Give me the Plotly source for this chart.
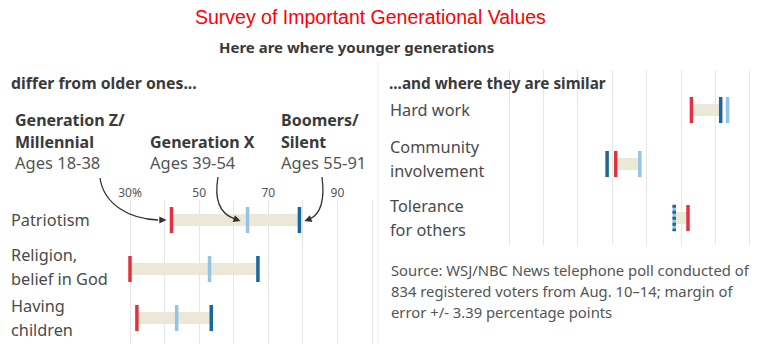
import plotly.graph_objects as go

# ---- data (percent saying each value is very important) ----
left_rows = ["Patriotism", "Religion,<br>belief in God", "Having<br>children"]
left_genz = [42, 30, 32]
left_genx = [64, 53, 43.5]
left_boom = [79, 67, 53.5]
left_bar_end = ["boom", "boom", "boom"]

right_rows = ["Hard work", "Community<br>involvement", "Tolerance<br>for others"]
right_genz = [83, 61, 82]
right_genx = [93.5, 68, 78]
right_boom = [91.5, 58.5, 78]
right_bar_end = ["boom", "genx", "boom"]

tick_vals = [30, 40, 50, 60, 70, 80, 90, 100]
tick_text = ["30%", "", "50", "", "70", "", "90", ""]

source_lines = [
    "Source: WSJ/NBC News telephone poll conducted of",
    "834 registered voters from Aug. 10\u201314; margin of",
    "error +/- 3.39 percentage points",
]

# ---- styling ----
W, H = 762, 344
RED = "#e3323f"
LIGHT = "#92c4e8"
DARK = "#1a679e"
BEIGE = "#ece8d7"
GRID = "#e6e6e6"
FONT = "Noto Sans"
TXT = "#3a3a3a"

L_XRANGE = [-7.6, 102.6]
R_XRANGE = [-7.2, 103.5]
L_XDOM = [0.0, 0.5]
R_XDOM = [0.5, 1.0]
L_YDOM = [0.0, 1 - 200 / H]
R_YDOM = [1 - 245 / H, 1 - 70 / H]
L_YRANGE = [2.531, -0.408]
R_YRANGE = [2.5, -0.741]


def px(x):
    return x / W


def py(y):
    return 1 - y / H


def data_px(v, xr, xd):
    return (xd[0] + (v - xr[0]) / (xr[1] - xr[0]) * (xd[1] - xd[0])) * W


def row_py(i, yr, yd):
    top = (1 - yd[1]) * H
    bot = (1 - yd[0]) * H
    return top + (i - yr[1]) / (yr[0] - yr[1]) * (bot - top)


fig = go.Figure()


def add_panel(rows, genz, genx, boom, bar_end, xa, ya):
    idx = list(range(len(rows)))
    bx, by = [], []
    for i in idx:
        end = boom[i] if bar_end[i] == "boom" else genx[i]
        bx += [genz[i], end, None]
        by += [i, i, None]
    fig.add_trace(go.Scatter(x=bx, y=by, mode="lines", xaxis=xa, yaxis=ya,
                             line=dict(color=BEIGE, width=12), hoverinfo="skip",
                             showlegend=False))
    # Boomers marks are left out where they tie with Gen X (drawn dotted below)
    boom_solid = [None if b == x else b for b, x in zip(boom, genx)]
    for vals, col in [(genx, LIGHT), (boom_solid, DARK), (genz, RED)]:
        fig.add_trace(go.Scatter(
            x=vals, y=idx, mode="markers", xaxis=xa, yaxis=ya, showlegend=False,
            marker=dict(symbol="line-ns", size=18.6,
                        line=dict(color=col, width=3.5)),
        ))
    for i in idx:
        if genx[i] == boom[i]:
            fig.add_trace(go.Scatter(
                x=[boom[i], boom[i]], y=[i - 0.245, i + 0.245], mode="lines",
                xaxis=xa, yaxis=ya, showlegend=False, hoverinfo="skip",
                line=dict(color=DARK, width=3.5, dash="3px,3px"),
            ))


add_panel(left_rows, left_genz, left_genx, left_boom, left_bar_end, "x", "y")
add_panel(right_rows, right_genz, right_genx, right_boom, right_bar_end, "x2", "y2")

ann = []


def text(x, y, s, size=15, bold=False, color=TXT, anchor="left", family=FONT):
    ann.append(dict(x=px(x), y=py(y), xref="paper", yref="paper", text=(f"<b>{s}</b>" if bold else s),
                    showarrow=False, xanchor=anchor, yanchor="middle", align="left",
                    font=dict(family=family, size=size, color=color)))


text(370, 17, "Survey of Important Generational Values", size=19.5, color="#ff0000",
     anchor="center", family="Liberation Sans Narrow, Arial Narrow, Liberation Sans")
text(356, 47, "Here are where younger generations", size=15, bold=True, anchor="center")
text(9, 83, "differ from older ones...", size=15.8, bold=True)
text(387, 83, "...and where they are similar", size=15.3, bold=True)

text(13, 120, "Generation Z/", size=16, bold=True)
text(13, 142, "Millennial", size=16, bold=True)
text(13, 163, "Ages 18-38", size=16.5, color="#555")
text(148, 142, "Generation X", size=16, bold=True)
text(148, 163, "Ages 39-54", size=16.5, color="#555")
text(279, 120, "Boomers/", size=16, bold=True)
text(279, 142, "Silent", size=16, bold=True)
text(279, 163, "Ages 55-91", size=16.5, color="#555")


def row_label(x, i, lab, yref, shift0):
    lines = lab.split("<br>")
    n = len(lines)
    for k, ln in enumerate(lines):
        ann.append(dict(x=px(x), y=i, xref="paper", yref=yref, text=ln, showarrow=False,
                        xanchor="left", yanchor="middle", align="left",
                        yshift=shift0 - (k - (n - 1) / 2) * 23.5,
                        font=dict(family=FONT, size=16.3, color="#4a4a4a")))


for i, lab in enumerate(left_rows):
    row_label(9, i, lab, "y", [0, 2, 0][i])
for i, lab in enumerate(right_rows):
    row_label(388, i, lab, "y2", [0, 5, 0][i])

for k, line in enumerate(source_lines):
    text(389, 270 + 21 * k, line, size=14.8, color="#555")

# curved pointers from the generation labels to the Patriotism marks
shapes = []
r0 = row_py(0, L_YRANGE, L_YDOM)
zx = data_px(left_genz[0], L_XRANGE, L_XDOM)
xx = data_px(left_genx[0], L_XRANGE, L_XDOM)
bxp = data_px(left_boom[0], L_XRANGE, L_XDOM)
pointers = [
    # (start, c1, c2, tail, tip)
    ((100, 178), (104, 205), (130, 219), (158, r0), (zx - 5, r0)),
    ((218, 177), (214, 200), (220, 214), (235, r0 - 1), (xx - 7, r0 + 1)),
    ((322, 177), (325, 200), (320, 214), (310, r0 - 1), (bxp + 5, r0 + 1)),
]
for s, c1, c2, t, tip in pointers:
    path = (f"M{px(s[0])},{py(s[1])} C{px(c1[0])},{py(c1[1])} "
            f"{px(c2[0])},{py(c2[1])} {px(t[0])},{py(t[1])}")
    shapes.append(dict(type="path", path=path, xref="paper", yref="paper",
                       line=dict(color="#333", width=1.3)))
    ann.append(dict(x=px(tip[0]), y=py(tip[1]), xref="paper", yref="paper", text="",
                    showarrow=True, ax=t[0] - tip[0], ay=t[1] - tip[1],
                    arrowhead=2, arrowsize=1.1, arrowwidth=1.3, arrowcolor="#333",
                    standoff=0))

# faint divider between the two panels
shapes.append(dict(type="line", xref="paper", yref="paper", x0=px(378), x1=px(378),
                   y0=py(62), y1=0, line=dict(color="#ececec", width=1)))

axis_common = dict(tickvals=tick_vals, showgrid=True, gridcolor=GRID, gridwidth=1,
                   zeroline=False, showline=False, ticks="", fixedrange=True)

fig.update_layout(
    width=W, height=H, margin=dict(l=0, r=0, t=0, b=0),
    paper_bgcolor="white", plot_bgcolor="rgba(0,0,0,0)",
    showlegend=False,
    xaxis=dict(domain=L_XDOM, range=L_XRANGE, anchor="y", side="top",
               ticktext=tick_text, tickfont=dict(family=FONT, size=12, color="#555"),
               **axis_common),
    yaxis=dict(domain=L_YDOM, range=L_YRANGE, anchor="x", visible=False),
    xaxis2=dict(domain=R_XDOM, range=R_XRANGE, anchor="y2", showticklabels=False,
                **axis_common),
    yaxis2=dict(domain=R_YDOM, range=R_YRANGE, anchor="x2", visible=False),
    annotations=ann,
    shapes=shapes,
)

fig.write_html("out.html")
